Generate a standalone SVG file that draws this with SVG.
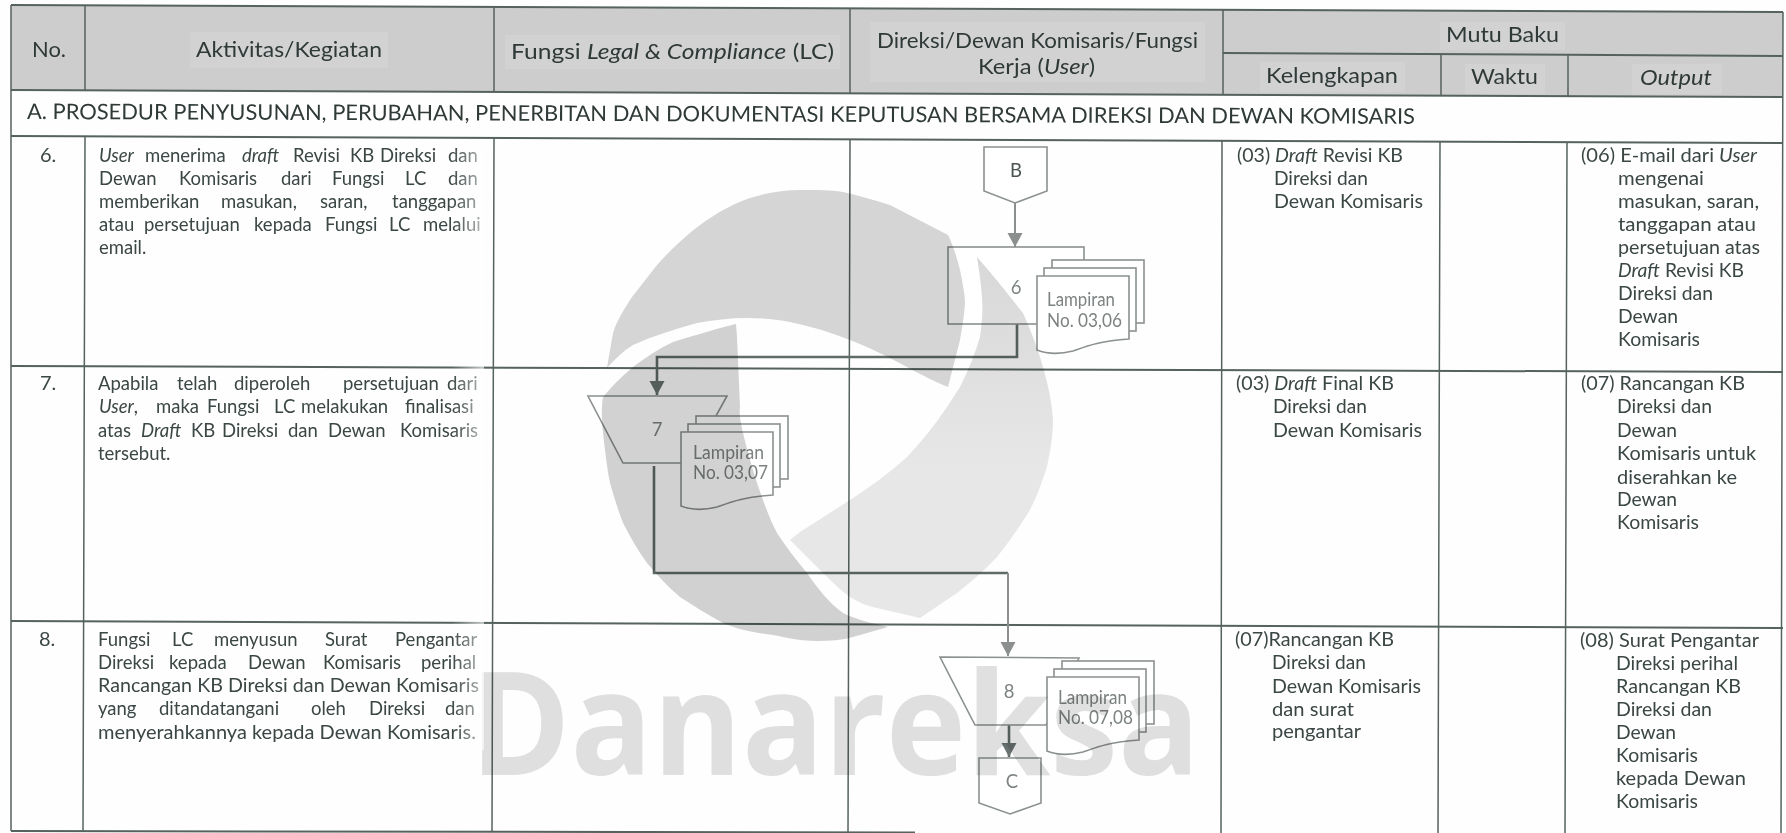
<svg xmlns="http://www.w3.org/2000/svg" width="1786" height="833" viewBox="0 0 1786 833">
<style>
text{font-family:Lato,"Open Sans","Liberation Sans",sans-serif;fill:#3b4745;font-size:18.5px}
.h{font-size:21px;fill:#2f3a38}
.s{font-size:21.5px;fill:#2f3a38}
.i{font-style:italic}
.l{fill:none;stroke:#55625f;stroke-width:1.5}
.b{stroke:#55625f;stroke-width:2}
.n{fill:#fff;stroke:#8b918f;stroke-width:1.6}
.f{fill:#7d8382;font-size:18.5px}
.p{fill:#d2d2d2}
.c{fill:none;stroke:#8b908f;stroke-width:2}
.d{fill:none;stroke:#5f6b69;stroke-width:2.6}
</style>
<defs>
<marker id="a" markerUnits="userSpaceOnUse" markerWidth="16" markerHeight="16" refX="14" refY="7.5" orient="auto"><path d="M0,0L14,7.5L0,15Z" fill="#8b908f"/></marker>
<marker id="k" markerUnits="userSpaceOnUse" markerWidth="16" markerHeight="16" refX="14" refY="7.5" orient="auto"><path d="M0,0L14,7.5L0,15Z" fill="#687270"/></marker>
<g id="stack">
<rect x="15" y="-16" width="92" height="63" class="n"/>
<rect x="7" y="-8" width="92" height="63" class="n"/>
<path d="M0,0H92V63C62,65 50,70 36,75C24,78 10,78 0,74Z" class="n"/>
</g>
<linearGradient id="fade" gradientUnits="userSpaceOnUse" x1="452" x2="482" y1="0" y2="0"><stop offset="0" stop-color="#fff" stop-opacity="0"/><stop offset="1" stop-color="#fff" stop-opacity=".6"/></linearGradient>
<linearGradient id="wm" gradientUnits="userSpaceOnUse" x1="0" x2="0" y1="260" y2="470"><stop offset="0" stop-color="#d8d8d8"/><stop offset="1" stop-color="#e8e8e8"/></linearGradient>
</defs>
<rect width="1786" height="833" fill="#fefefe"/>
<g id="table">
<path d="M11,5L1783,12V97L11,90Z" fill="#cdcdcd"/>
<rect class="p" x="190" y="32" width="198" height="36"/>
<rect class="p" x="505" y="35" width="335" height="34"/>
<rect class="p" x="870" y="22" width="335" height="60"/>
<rect class="p" x="1440" y="22" width="125" height="28"/>
<rect class="p" x="1260" y="62" width="145" height="30"/>
<rect class="p" x="1465" y="64" width="80" height="30"/>
<rect class="p" x="1632" y="64" width="90" height="30"/>
<path class="b" fill="none" d="M11,5L1783,12M11,90L1783,97M11,136L1783,143M11,366L1783,372M11,621L1783,628M11,831L915,832.5M1223,53L1783,56"/>
<path class="l" d="M11,5V831M85,6V90M85,137L83,831M494,7V92M494,138L492,832M850,8V93M850,140L848,833M1223,10V95M1222,141L1221,833M1441,55V96M1440,142L1438,833M1568,55V97M1567,143L1565,833M1783,12L1781,833"/>
</g>
<g id="header">
<text class="h" x="32" y="57" textLength="34" lengthAdjust="spacingAndGlyphs">No.</text>
<text class="h" x="196" y="57" textLength="186" lengthAdjust="spacingAndGlyphs">Aktivitas/Kegiatan</text>
<text class="h" x="511" y="59" textLength="323" lengthAdjust="spacingAndGlyphs">Fungsi <tspan class="i">Legal &amp; Compliance</tspan> (LC)</text>
<text class="h" x="877" y="48" textLength="321" lengthAdjust="spacingAndGlyphs">Direksi/Dewan Komisaris/Fungsi</text>
<text class="h" x="978" y="74" textLength="117" lengthAdjust="spacingAndGlyphs">Kerja (<tspan class="i">User</tspan>)</text>
<text class="h" x="1446" y="42" textLength="113" lengthAdjust="spacingAndGlyphs">Mutu Baku</text>
<text class="h" x="1266" y="83" textLength="132" lengthAdjust="spacingAndGlyphs">Kelengkapan</text>
<text class="h" x="1471" y="84" textLength="67" lengthAdjust="spacingAndGlyphs">Waktu</text>
<text class="h i" x="1640" y="85" textLength="72" lengthAdjust="spacingAndGlyphs">Output</text>
<text class="s" x="27" y="119" textLength="1388" lengthAdjust="spacingAndGlyphs" transform="rotate(.2 27 119)">A. PROSEDUR PENYUSUNAN, PERUBAHAN, PENERBITAN DAN DOKUMENTASI KEPUTUSAN BERSAMA DIREKSI DAN DEWAN KOMISARIS</text>
</g>
<g id="activities">
<text x="40" y="162" style="font-size:20px">6.</text>
<text x="40" y="390" style="font-size:20px">7.</text>
<text x="39" y="646" style="font-size:20px">8.</text>
<text y="162"><tspan x="99" class="i">User</tspan> <tspan x="145">menerima</tspan> <tspan x="242" class="i">draft</tspan> <tspan x="293">Revisi</tspan> <tspan x="350">KB</tspan> <tspan x="380">Direksi</tspan> <tspan x="448">dan</tspan></text>
<text y="185"><tspan x="99">Dewan</tspan> <tspan x="179">Komisaris</tspan> <tspan x="281">dari</tspan> <tspan x="332">Fungsi</tspan> <tspan x="405">LC</tspan> <tspan x="448">dan</tspan></text>
<text y="208"><tspan x="99">memberikan</tspan> <tspan x="221">masukan,</tspan> <tspan x="320">saran,</tspan> <tspan x="392">tanggapan</tspan></text>
<text y="231"><tspan x="99">atau</tspan> <tspan x="144">persetujuan</tspan> <tspan x="254">kepada</tspan> <tspan x="325">Fungsi</tspan> <tspan x="389">LC</tspan> <tspan x="423">melalui</tspan></text>
<text x="99" y="254">email.</text>
<text y="390"><tspan x="98">Apabila</tspan> <tspan x="177">telah</tspan> <tspan x="234">diperoleh</tspan> <tspan x="343">persetujuan</tspan> <tspan x="447">dari</tspan></text>
<text y="413"><tspan x="99" class="i">User</tspan>, <tspan x="156">maka</tspan> <tspan x="207">Fungsi</tspan> <tspan x="274">LC</tspan> <tspan x="301">melakukan</tspan> <tspan x="405">finalisasi</tspan></text>
<text y="437"><tspan x="98">atas</tspan> <tspan x="141" class="i">Draft</tspan> <tspan x="191">KB</tspan> <tspan x="222">Direksi</tspan> <tspan x="288">dan</tspan> <tspan x="328">Dewan</tspan> <tspan x="400">Komisaris</tspan></text>
<text x="98" y="460">tersebut.</text>
<text y="646"><tspan x="98">Fungsi</tspan> <tspan x="172">LC</tspan> <tspan x="214">menyusun</tspan> <tspan x="325">Surat</tspan> <tspan x="395">Pengantar</tspan></text>
<text y="669"><tspan x="98">Direksi</tspan> <tspan x="169">kepada</tspan> <tspan x="248">Dewan</tspan> <tspan x="323">Komisaris</tspan> <tspan x="421">perihal</tspan></text>
<text x="98" y="692" textLength="381" lengthAdjust="spacingAndGlyphs">Rancangan KB Direksi dan Dewan Komisaris</text>
<text y="715"><tspan x="98">yang</tspan> <tspan x="159">ditandatangani</tspan> <tspan x="311">oleh</tspan> <tspan x="369">Direksi</tspan> <tspan x="445">dan</tspan></text>
<text x="98" y="739" textLength="378" lengthAdjust="spacingAndGlyphs">menyerahkannya kepada Dewan Komisaris.</text>
</g>
<g id="kelengkapan">
<text x="1237" y="162" textLength="166" lengthAdjust="spacingAndGlyphs">(03) <tspan class="i">Draft</tspan> Revisi KB</text>
<text x="1274" y="185" textLength="94" lengthAdjust="spacingAndGlyphs">Direksi dan</text>
<text x="1274" y="208" textLength="149" lengthAdjust="spacingAndGlyphs">Dewan Komisaris</text>
<text x="1236" y="390" textLength="158" lengthAdjust="spacingAndGlyphs">(03) <tspan class="i">Draft</tspan> Final KB</text>
<text x="1273" y="413" textLength="94" lengthAdjust="spacingAndGlyphs">Direksi dan</text>
<text x="1273" y="437" textLength="149" lengthAdjust="spacingAndGlyphs">Dewan Komisaris</text>
<text x="1235" y="646" textLength="159" lengthAdjust="spacingAndGlyphs">(07)Rancangan KB</text>
<text x="1272" y="669" textLength="94" lengthAdjust="spacingAndGlyphs">Direksi dan</text>
<text x="1272" y="693" textLength="149" lengthAdjust="spacingAndGlyphs">Dewan Komisaris</text>
<text x="1272" y="716" textLength="82" lengthAdjust="spacingAndGlyphs">dan surat</text>
<text x="1272" y="738" textLength="89" lengthAdjust="spacingAndGlyphs">pengantar</text>
</g>
<g id="output">
<text x="1581" y="162" textLength="176" lengthAdjust="spacingAndGlyphs">(06) E-mail dari <tspan class="i">User</tspan></text>
<text x="1618" y="185" textLength="86" lengthAdjust="spacingAndGlyphs">mengenai</text>
<text x="1618" y="208" textLength="141" lengthAdjust="spacingAndGlyphs">masukan, saran,</text>
<text x="1618" y="231" textLength="138" lengthAdjust="spacingAndGlyphs">tanggapan atau</text>
<text x="1618" y="254" textLength="142" lengthAdjust="spacingAndGlyphs">persetujuan atas</text>
<text x="1618" y="277" textLength="126" lengthAdjust="spacingAndGlyphs"><tspan class="i">Draft</tspan> Revisi KB</text>
<text x="1618" y="300" textLength="95" lengthAdjust="spacingAndGlyphs">Direksi dan</text>
<text x="1618" y="323" textLength="60" lengthAdjust="spacingAndGlyphs">Dewan</text>
<text x="1618" y="346" textLength="82" lengthAdjust="spacingAndGlyphs">Komisaris</text>
<text x="1581" y="390" textLength="164" lengthAdjust="spacingAndGlyphs">(07) Rancangan KB</text>
<text x="1617" y="413" textLength="95" lengthAdjust="spacingAndGlyphs">Direksi dan</text>
<text x="1617" y="437" textLength="60" lengthAdjust="spacingAndGlyphs">Dewan</text>
<text x="1617" y="460" textLength="139" lengthAdjust="spacingAndGlyphs">Komisaris untuk</text>
<text x="1617" y="484" textLength="120" lengthAdjust="spacingAndGlyphs">diserahkan ke</text>
<text x="1617" y="506" textLength="60" lengthAdjust="spacingAndGlyphs">Dewan</text>
<text x="1617" y="529" textLength="82" lengthAdjust="spacingAndGlyphs">Komisaris</text>
<text x="1580" y="647" textLength="179" lengthAdjust="spacingAndGlyphs">(08) Surat Pengantar</text>
<text x="1616" y="670" textLength="122" lengthAdjust="spacingAndGlyphs">Direksi perihal</text>
<text x="1616" y="693" textLength="125" lengthAdjust="spacingAndGlyphs">Rancangan KB</text>
<text x="1616" y="716" textLength="96" lengthAdjust="spacingAndGlyphs">Direksi dan</text>
<text x="1616" y="739" textLength="60" lengthAdjust="spacingAndGlyphs">Dewan</text>
<text x="1616" y="762" textLength="82" lengthAdjust="spacingAndGlyphs">Komisaris</text>
<text x="1616" y="785" textLength="130" lengthAdjust="spacingAndGlyphs">kepada Dewan</text>
<text x="1616" y="808" textLength="82" lengthAdjust="spacingAndGlyphs">Komisaris</text>
</g>
<g id="connectors">
<path class="c" d="M1015,203V247" marker-end="url(#a)"/>
<path class="d" d="M1017,324V357H657V395" marker-end="url(#k)"/>
<path class="d" d="M654,466V573H1008"/>
<path class="c" d="M1008,573V656" marker-end="url(#a)"/>
<path class="d" d="M1009,725V757" marker-end="url(#k)"/>
</g>
<g id="node-b"><path class="n" d="M984,147H1047V191L1015,203L984,191Z"/><text x="1016" y="177" text-anchor="middle" style="fill:#4a5553">B</text></g>
<g id="node-6"><rect class="n" x="948" y="247" width="136" height="77"/><text class="f" x="1016" y="294" text-anchor="middle">6</text></g>
<g id="doc-6"><use href="#stack" x="1037" y="276"/><text class="f" x="1047" y="306" textLength="68" lengthAdjust="spacingAndGlyphs">Lampiran</text><text class="f" x="1047" y="327" textLength="75" lengthAdjust="spacingAndGlyphs">No. 03,06</text></g>
<g id="node-7"><path class="n" d="M588,396H727L690,463H623Z"/><text class="f" x="657" y="436" text-anchor="middle">7</text></g>
<g id="doc-7"><use href="#stack" x="681" y="432"/><text class="f" x="693" y="459" textLength="71" lengthAdjust="spacingAndGlyphs">Lampiran</text><text class="f" x="693" y="479" textLength="75" lengthAdjust="spacingAndGlyphs">No. 03,07</text></g>
<g id="node-8"><path class="n" d="M940,657L1079,658L1046,725H975Z"/><text class="f" x="1009" y="698" text-anchor="middle">8</text></g>
<g id="doc-8"><use href="#stack" x="1047" y="677"/><text class="f" x="1058" y="704" textLength="69" lengthAdjust="spacingAndGlyphs">Lampiran</text><text class="f" x="1058" y="724" textLength="75" lengthAdjust="spacingAndGlyphs">No. 07,08</text></g>
<g id="node-c"><path class="n" d="M979,758H1041V803L1010,814L979,803Z"/><text class="f" x="1012" y="788" text-anchor="middle">C</text></g>
<g id="watermark" style="mix-blend-mode:multiply">
<path fill="#d6d6d6" d="M607,368C609,355 611,345 613,333C618,318 625,308 632,297L657,265C675,245 690,232 707,220C722,210 735,203 750,198C770,192 785,190 803,190C818,190 830,190 843,192C860,196 875,200 890,205L948,235C953,245 957,258 960,270C963,285 965,295 965,303C964,318 962,328 960,340L948,387C935,382 920,374 907,367C885,355 868,347 850,340C830,332 810,326 790,322C775,319 760,318 747,318C730,318 713,320 697,323C675,329 653,336 633,345C623,351 615,359 607,368Z"/>
<path fill="#d2d2d2" d="M736,324C715,329 693,336 673,342C658,349 645,358 633,367C622,376 612,386 603,397C601,410 602,422 603,433C605,450 607,468 610,483C614,497 618,510 623,523C631,538 638,551 647,563C657,575 668,587 680,597C694,606 708,615 723,623C739,630 756,633 773,635C788,638 802,641 817,641C830,641 842,640 853,637L888,627C872,623 857,620 843,613C830,604 818,589 807,573C795,558 786,547 777,533C769,518 763,500 757,483C751,465 747,449 743,433C740,420 739,412 740,407L737,337Z"/>
<path fill="url(#wm)" d="M977,257C993,275 1008,294 1023,313C1031,331 1038,349 1043,367C1048,385 1052,402 1053,420C1053,437 1050,452 1047,467C1042,482 1037,496 1030,510C1020,526 1009,542 997,557C985,570 971,582 957,593L920,618L877,608C867,606 858,602 850,597C840,590 832,582 823,573L790,540L800,532L850,500C870,487 889,473 907,457C921,442 935,425 947,407L960,387C968,371 975,354 980,337C982,323 983,310 982,297C981,283 979,270 977,257Z"/>
<text x="470" y="775" textLength="730" lengthAdjust="spacingAndGlyphs" style="font-family:'Open Sans',sans-serif;font-weight:700;font-size:144px;fill:#e0e0e0">Danareksa</text>
</g>
<rect x="452" y="150" width="32" height="600" fill="url(#fade)"/>
</svg>
